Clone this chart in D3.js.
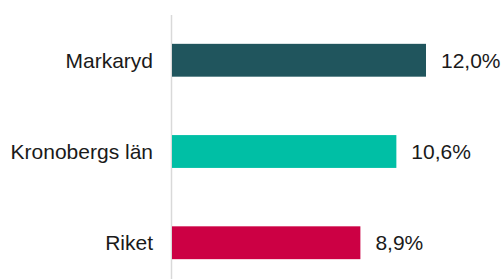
<!DOCTYPE html>
<html>
<head>
<meta charset="utf-8">
<script src="https://cdn.jsdelivr.net/npm/d3@7"></script>
<style>
	body { margin: 0; background: #fff; }
	text { font-family: "Liberation Sans", Arial, sans-serif; fill: #1a1a1a; }
</style>
</head>
<body>
<div id="graph"></div>
<script>
const fullWidth = 503;
const fullHeight = 279;

// data
var categories = ["Markaryd", "Kronobergs län", "Riket"];
var values = [12.0, 10.6, 8.9];
var colors = ["#20555d", "#00bfa5", "#cc0044"];

var svg = d3.select("#graph")
	.append("svg")
	.attr("width", fullWidth)
	.attr("height", fullHeight);

var x0 = 172;

var xScale = d3.scaleLinear()
	.domain([0, 12])
	.range([x0, x0 + 254]);

var yScale = d3.scaleBand()
	.domain(categories)
	.range([15, 288])
	.paddingInner(0.64)
	.paddingOuter(0.316);

// vertical axis line
svg.append("line")
	.attr("x1", x0 - 0.5)
	.attr("x2", x0 - 0.5)
	.attr("y1", 15)
	.attr("y2", fullHeight)
	.attr("stroke", "#d9d9d9")
	.attr("stroke-width", 1.5);

svg.append("g").selectAll("rect")
	.data(values)
	.enter().append("rect")
	.attr("x", xScale(0))
	.attr("y", (d, i) => yScale(categories[i]))
	.attr("width", d => xScale(d) - xScale(0))
	.attr("height", yScale.bandwidth())
	.attr("fill", (d, i) => colors[i]);

// category labels
svg.append("g").selectAll("text")
	.data(categories)
	.enter().append("text")
	.attr("x", 153)
	.attr("y", d => yScale(d) + yScale.bandwidth() / 2)
	.attr("dy", "0.36em")
	.attr("text-anchor", "end")
	.style("font-size", "21px")
	.text(d => d);

// value labels
var fmt = d => d3.format(".1f")(d).replace(".", ",") + "%";
svg.append("g").selectAll("text")
	.data(values)
	.enter().append("text")
	.attr("x", d => xScale(d) + 15)
	.attr("y", (d, i) => yScale(categories[i]) + yScale.bandwidth() / 2)
	.attr("dy", "0.36em")
	.style("font-size", "21px")
	.text(fmt);
</script>
</body>
</html>
